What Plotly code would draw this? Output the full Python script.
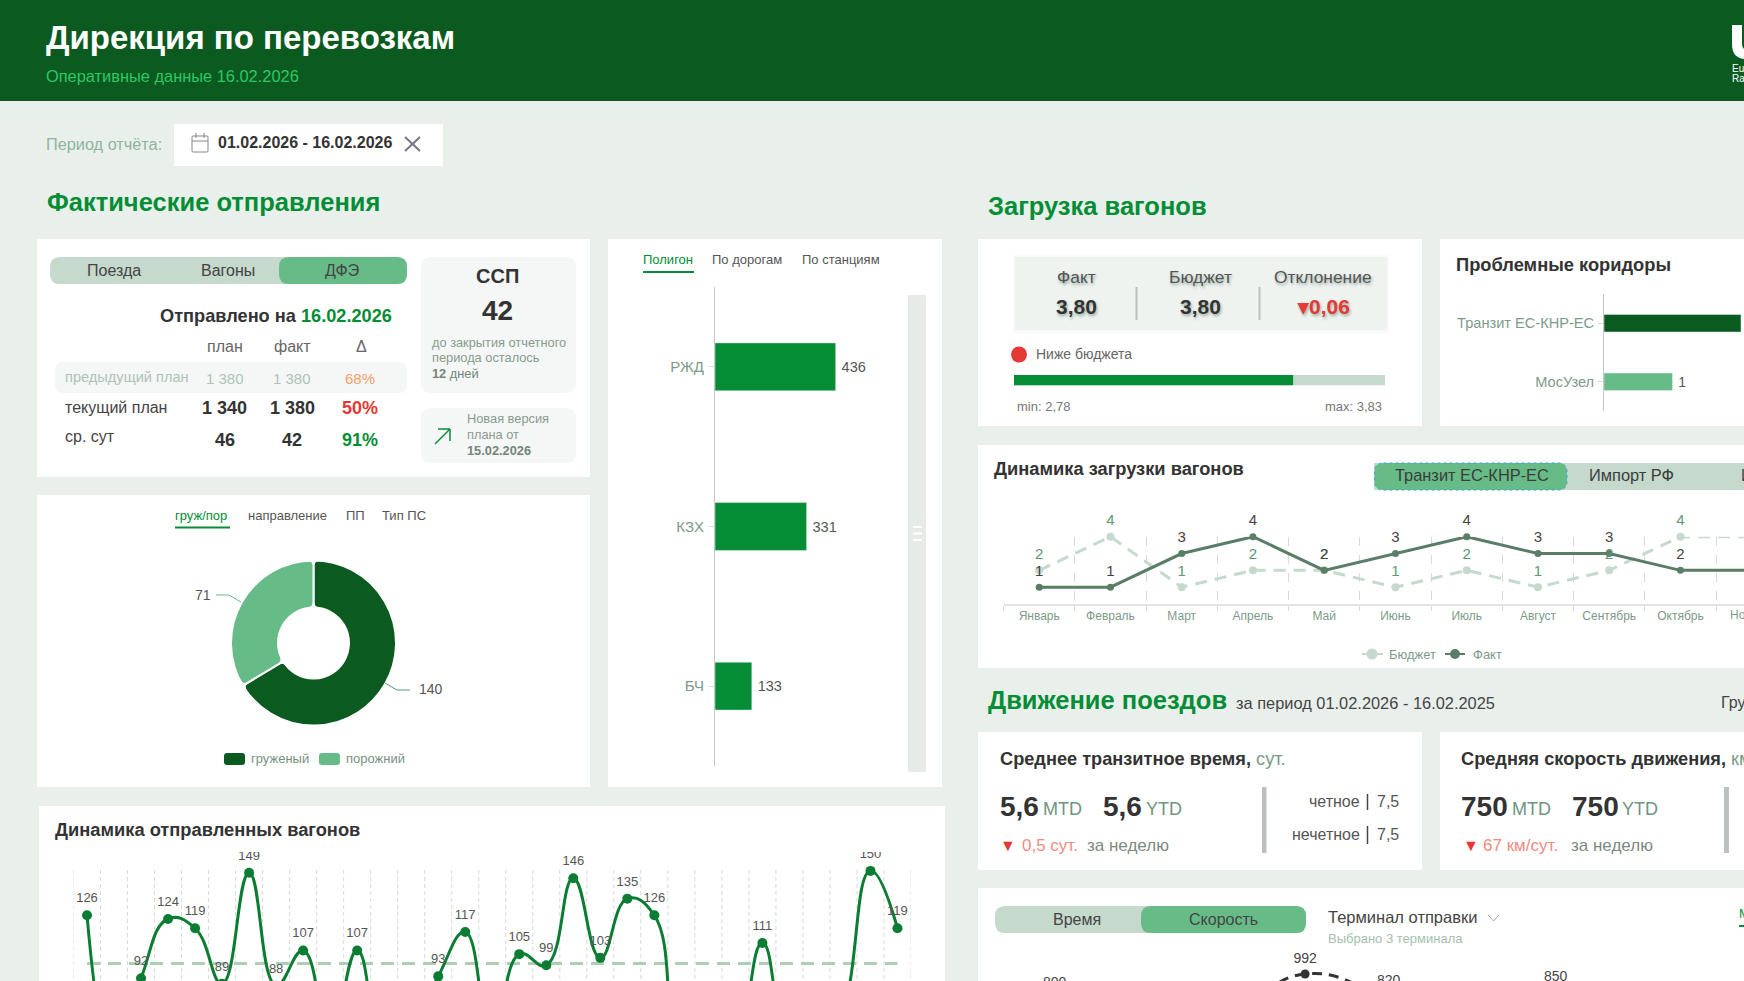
import math
import plotly.graph_objects as go

W, H = 1744, 981
FONT = "'Liberation Sans', Arial, sans-serif"

BG = "#e9f0ec"
HEADER = "#0b5a20"
GREEN = "#058d35"
DARK = "#0b5a20"
MID = "#67bb87"
PALE = "#c5d9cc"
INK = "#333333"
MUTED = "#7d9a8a"
RED = "#e53935"
CLEAR = "rgba(0,0,0,0)"

# Shipped wagons per day of the month
day_index = list(range(31))
day_values = [126, 45, 92, 124, 119, 89, 149, 88, 107, 60, 107, 60, 62, 93, 117, 55,
              105, 99, 146, 103, 135, 126, 50, 40, 55, 111, 55, 45, 75, 150, 119]
day_labels = ["126", "", "92", "124", "119", "89", "149", "88", "107", "", "107", "", "", "93", "117", "",
              "105", "99", "146", "103", "135", "126", "", "", "", "111", "", "", "", "150", "119"]
day_plan = [100] * 31

# Departures by polygon
polygon_names = ["РЖД", "КЗХ", "БЧ"]
polygon_values = [436, 331, 133]

# Loaded / empty split
split_names = ["груженый", "порожний"]
split_values = [140, 71]

# Problem corridors
corridor_names = ["Транзит ЕС-КНР-ЕС", "МосУзел"]
corridor_values = [2, 1]

# Wagon loading by month
months = ["Январь", "Февраль", "Март", "Апрель", "Май", "Июнь", "Июль", "Август",
          "Сентябрь", "Октябрь", "Ноябрь", "Декабрь"]
load_budget = [2, 4, 1, 2, 2, 1, 2, 1, 2, 4, 4, 3]
load_fact = [1, 1, 3, 4, 2, 3, 4, 3, 3, 2, 2, 3]

# Loading gauge
gauge_min, gauge_max, gauge_value = 2.78, 3.83, 3.57

# Speed by terminal
terminal_index = list(range(9))
terminal_speed = [800, 640, 660, 992, 820, 680, 850, 700, 660]
terminal_labels = ["800", "", "", "992", "820", "", "850", "", ""]


def px(x):
    return x / W


def py(y):
    return 1 - y / H


shapes, annotations, traces, axes = [], [], [], {}


def rect(x0, y0, x1, y1, fill, layer="below", r=0, line=None, dash=None):
    """Filled rectangle in page pixels, optionally with rounded corners."""
    style = dict(fillcolor=fill, layer=layer, xref="paper", yref="paper",
                 line=dict(width=0) if line is None else dict(width=1, color=line, dash=dash))
    if r == 0:
        shapes.append(dict(type="rect", x0=px(x0), x1=px(x1), y0=py(y0), y1=py(y1), **style))
        return
    a, b, c, d = px(x0), px(x1), py(y0), py(y1)
    rx, ry = r / W, r / H
    path = (f"M{a + rx},{c} L{b - rx},{c} Q{b},{c} {b},{c - ry} L{b},{d + ry} Q{b},{d} {b - rx},{d} "
            f"L{a + rx},{d} Q{a},{d} {a},{d + ry} L{a},{c - ry} Q{a},{c} {a + rx},{c} Z")
    shapes.append(dict(type="path", path=path, **style))


def seg(x0, y0, x1, y1, color, width=1, dash=None, layer="above"):
    """Straight line in page pixels."""
    shapes.append(dict(type="line", x0=px(x0), x1=px(x1), y0=py(y0), y1=py(y1), xref="paper",
                       yref="paper", layer=layer, line=dict(color=color, width=width, dash=dash)))


def dot(cx, cy, r, color):
    shapes.append(dict(type="circle", x0=px(cx - r), x1=px(cx + r), y0=py(cy + r), y1=py(cy - r),
                       xref="paper", yref="paper", fillcolor=color, line=dict(width=0), layer="above"))


def text(x, y, s, size=14, color=INK, anchor="left", bold=False, shadow=None):
    font = dict(family=FONT, size=size, color=color)
    if shadow:
        font["shadow"] = shadow
    if anchor == "left":
        x -= 1  # annotation boxes keep one pixel of side padding
    annotations.append(dict(x=px(x), y=py(y), xref="paper", yref="paper", showarrow=False,
                            xanchor=anchor, yanchor="middle", text=f"<b>{s}</b>" if bold else s,
                            font=font, borderpad=0))


def add_axes(n, x, y, xopts=None, yopts=None):
    """Register a subplot placed by its page-pixel box."""
    base = dict(visible=False, fixedrange=True, showgrid=False, zeroline=False)
    suffix = "" if n == 1 else str(n)
    axes[f"xaxis{suffix}"] = {**base, "domain": [px(x[0]), px(x[1])], "anchor": f"y{suffix}", **(xopts or {})}
    axes[f"yaxis{suffix}"] = {**base, "domain": [py(y[1]), py(y[0])], "anchor": f"x{suffix}", **(yopts or {})}
    return f"x{suffix}", f"y{suffix}"


def labels_trace(x, y, labels, xa, ya, size, color, spacing, clip=True):
    """Value labels sitting above a series; spacing is the invisible marker that sets their offset."""
    return go.Scatter(x=x, y=y, mode="markers+text", xaxis=xa, yaxis=ya, text=labels, textposition="top center",
                      showlegend=False, hoverinfo="skip", cliponaxis=clip,
                      textfont=dict(family=FONT, size=size, color=color),
                      marker=dict(color=CLEAR, size=spacing))


def round_donut_corners(cx, cy, r_out, r_in, turn, rad=8.0):
    """Soften the slice corners at the given clockwise-from-top angle with small white masks."""
    def point(rr, ang):
        return cx + rr * math.sin(ang), cy - rr * math.cos(ang)

    for side in (-1, 1):
        for radius, inward in ((r_out, -1), (r_in, 1)):
            step = side * rad / radius
            corner = point(radius, turn)
            along = point(radius + inward * rad, turn)
            arc_end = point(radius, turn + step)
            path = (f"M{px(corner[0])},{py(corner[1])} L{px(along[0])},{py(along[1])} "
                    f"Q{px(corner[0])},{py(corner[1])} {px(arc_end[0])},{py(arc_end[1])} Z")
            shapes.append(dict(type="path", path=path, xref="paper", yref="paper", fillcolor="#ffffff",
                               line=dict(width=0), layer="above"))


# ---- header and period picker ----
rect(0, 0, W, 101, HEADER)
text(46, 37, "Дирекция по перевозкам", 33, "#ffffff", bold=True)
text(46, 76, "Оперативные данные 16.02.2026", 16.4, "#2fc765")
shapes.append(dict(type="path", xref="paper", yref="paper", fillcolor="#ffffff", line=dict(width=0),
                   path=(f"M{px(1732)},{py(25)} L{px(1742)},{py(25)} L{px(1742)},{py(44)} "
                         f"Q{px(1742)},{py(49)} {px(1746)},{py(50)} L{px(1746)},{py(59)} "
                         f"Q{px(1732)},{py(59)} {px(1732)},{py(44)} Z")))
text(1732, 69, "Eu", 10, "#ffffff")
text(1732, 79, "Ra", 10, "#ffffff")

text(46, 144, "Период отчёта:", 16.3, "#8db59d")
rect(174, 124, 443, 166, "#ffffff")
rect(192, 136, 208, 152, CLEAR, layer="above", r=1, line="#85858f")
seg(192, 141, 208, 141, "#85858f")
seg(196, 133, 196, 138, "#85858f")
seg(204, 133, 204, 138, "#85858f")
text(218, 142, "01.02.2026 - 16.02.2026", 16, INK, bold=True)
seg(405, 137, 420, 151, "#77778a", 2)
seg(420, 137, 405, 151, "#77778a", 2)

# ---- departures section ----
text(47, 202, "Фактические отправления", 25.5, GREEN, bold=True)

rect(37, 239, 590, 477, "#ffffff")
rect(50, 257, 407, 284, PALE, r=10)
rect(279, 257, 407, 284, MID, r=10)
text(114, 270, "Поезда", 16, "#444444", "center")
text(228, 270, "Вагоны", 16, "#444444", "center")
text(342, 270, "ДФЭ", 16, "#444444", "center")

text(393, 316, f'Отправлено на <span style="color:{GREEN}">16.02.2026</span>', 18.2, INK, "right", bold=True)
for cx, s in zip((225, 292, 361), ("план", "факт", "Δ")):
    text(cx, 346, s, 16, "#666666", "center")
rect(55, 362, 407, 393, "#f4f7f5", r=8)
text(65, 377, "предыдущий план", 14.6, "#afc3b7")
text(225, 378, "1 380", 15, "#afc3b7", "center")
text(292, 378, "1 380", 15, "#afc3b7", "center")
text(360, 378, "68%", 15, "#f4a06a", "center")
text(65, 407, "текущий план", 16, "#444444")
text(225, 408, "1 340", 18, INK, "center", bold=True)
text(292, 408, "1 380", 18, INK, "center", bold=True)
text(360, 408, "50%", 18, RED, "center", bold=True)
text(65, 436, "ср. сут", 16, "#444444")
text(225, 440, "46", 18, INK, "center", bold=True)
text(292, 440, "42", 18, INK, "center", bold=True)
text(360, 440, "91%", 18, GREEN, "center", bold=True)

rect(421, 257, 576, 393, "#f4f7f5", r=10)
text(498, 276, "ССП", 20, INK, "center", bold=True)
text(498, 310, "42", 28, INK, "center", bold=True)
text(432, 342, "до закрытия отчетного", 12.8, "#8a9a90")
text(432, 358, "периода осталось", 12.8, "#8a9a90")
text(432, 374, "<b>12</b> дней", 12.8, "#73857a")
rect(421, 408, 576, 463, "#f4f7f5", r=10)
seg(435, 444, 450, 429, GREEN, 1.5)
seg(438, 429, 450, 429, GREEN, 1.5)
seg(450, 429, 450, 441, GREEN, 1.5)
text(467, 418, "Новая версия", 12.8, "#8a9a90")
text(467, 434, "плана от", 12.8, "#8a9a90")
text(467, 450, "15.02.2026", 12.8, "#73857a", bold=True)

# donut card
rect(37, 495, 590, 787, "#ffffff")
text(175, 515, "груж/пор", 13, GREEN)
seg(175, 527.5, 230, 527.5, GREEN, 2)
text(248, 515, "направление", 13, "#555555")
text(346, 515, "ПП", 13, "#555555")
text(382, 515, "Тип ПС", 13, "#555555")
traces.append(go.Pie(labels=split_names, values=split_values, hole=0.43, sort=False, direction="clockwise",
                     rotation=0, textinfo="none", hoverinfo="label+value", showlegend=False,
                     marker=dict(colors=[DARK, MID], line=dict(color="#ffffff", width=2)),
                     domain=dict(x=[px(231), px(396)], y=[py(725.5), py(560.5)])))
round_donut_corners(313.5, 643, 82.5, 35.5, 0.0)
round_donut_corners(313.5, 643, 82.5, 35.5, 2 * math.pi * split_values[0] / sum(split_values))
text(203, 595, str(split_values[1]), 14, "#555555", "center")
seg(216, 595, 229, 595, MID, 1)
seg(229, 595, 241, 602, MID, 1)
text(431, 689, str(split_values[0]), 14, "#555555", "center")
seg(385, 683, 397, 690, "#5c9a76", 1)
seg(397, 690, 410, 690, "#5c9a76", 1)
rect(224, 753, 245, 765, DARK, r=3)
text(251, 758, split_names[0], 13, "#7a8f82")
rect(319, 753, 340, 765, MID, r=3)
text(346, 758, split_names[1], 13, "#7a8f82")

# polygon bar card
rect(608, 239, 942, 787, "#ffffff")
text(643, 259, "Полигон", 13, GREEN)
seg(643, 272, 694, 272, GREEN, 2)
text(712, 259, "По дорогам", 13, "#555555")
text(802, 259, "По станциям", 13, "#555555")
bx, by = add_axes(
    2, (715, 908), (287, 766),
    dict(range=[0, 193 / 0.2768]),
    dict(visible=True, type="category", categoryorder="array", categoryarray=polygon_names,
         range=[2.5, -0.5], showline=True, linecolor="#c4c8c6", linewidth=1, ticks="outside", ticklen=5,
         ticklabelstandoff=2, tickcolor="#d5dbd7", tickfont=dict(family=FONT, size=15, color=MUTED)))
traces.append(go.Bar(y=polygon_names, x=polygon_values, orientation="h", width=0.3, xaxis=bx, yaxis=by,
                     marker=dict(color=GREEN), text=["\u2009" + str(v) for v in polygon_values],
                     textposition="outside", cliponaxis=False,
                     textfont=dict(family=FONT, size=14.5, color="#555555")))
rect(908, 295, 926, 772, "#e6ebe8")
for yy in (527, 533.5, 540):
    seg(913, yy, 922, yy, "#ffffff", 2)

# daily wagons line chart
rect(39, 806, 945, 981, "#ffffff")
text(55, 829, "Динамика отправленных вагонов", 18.3, INK, bold=True)
v_top, v_bottom = 160.2, 90.5
lx, ly = add_axes(3, (73.5, 911), (852, 981), dict(range=[-0.5, 30.5]), dict(range=[v_bottom, v_top]))
for i in range(32):
    shapes.append(dict(type="line", xref=lx, yref="paper", x0=i - 0.5, x1=i - 0.5, y0=py(870), y1=0,
                       layer="below", line=dict(color="#d9d9d9", width=1, dash="4px,3px")))
traces.append(go.Scatter(x=day_index, y=day_plan, mode="lines", xaxis=lx, yaxis=ly, hoverinfo="skip",
                         line=dict(color="#add0b4", width=3, dash="13px,8px"), showlegend=False))
traces.append(go.Scatter(x=day_index, y=day_values, mode="lines+markers", xaxis=lx, yaxis=ly, showlegend=False,
                         line=dict(color="#0a7d32", width=3, shape="spline", smoothing=1.3),
                         marker=dict(color="#0a7d32", size=10)))
traces.append(labels_trace(day_index, day_values, day_labels, lx, ly, 13, "#555555", 14))

# ---- wagon loading section ----
text(988, 206, "Загрузка вагонов", 25.5, GREEN, bold=True)
rect(978, 239, 1422, 426, "#ffffff")
rect(1013, 255, 1389, 333, "#f8faf9")
rect(1015, 257, 1387, 330, "#eef3f0")
soft = "1px 2px 3px rgba(50,90,70,0.45)"
for cx, s in zip((1076, 1200, 1323), ("Факт", "Бюджет", "Отклонение")):
    text(cx, 277, s, 17.4, "#555555", "center", shadow=soft)
text(1076, 306, "3,80", 21, INK, "center", bold=True, shadow=soft)
text(1200, 306, "3,80", 21, INK, "center", bold=True, shadow=soft)
text(1323, 306, "▾0,06", 21, RED, "center", bold=True, shadow=soft)
seg(1136.5, 287, 1136.5, 320, "#bcc0be", 2)
seg(1259.5, 287, 1259.5, 320, "#bcc0be", 2)
dot(1019, 354.5, 8, RED)
text(1036, 354, "Ниже бюджета", 14, "#666666")
gx, gy = add_axes(4, (1014, 1385), (375, 385.5), dict(range=[gauge_min, gauge_max]), dict(range=[-0.5, 0.5]))
traces.append(go.Bar(y=[0], x=[gauge_max - gauge_min], base=[gauge_min], orientation="h", width=1, xaxis=gx,
                     yaxis=gy, marker=dict(color=PALE, line=dict(width=0)), showlegend=False, hoverinfo="skip"))
traces.append(go.Bar(y=[0], x=[gauge_value - gauge_min], base=[gauge_min], orientation="h", width=1, xaxis=gx,
                     yaxis=gy, marker=dict(color=GREEN, line=dict(width=0)), showlegend=False))
text(1017, 406, f"min: {gauge_min:.2f}".replace(".", ","), 13, "#777777")
text(1383, 406, f"max: {gauge_max:.2f}".replace(".", ","), 13, "#777777", "right")

rect(1440, 239, W, 426, "#ffffff")
text(1456, 264, "Проблемные коридоры", 18.3, INK, bold=True)
cx_, cy_ = add_axes(
    5, (1604, W), (294, 411),
    dict(range=[0, 140 / 68.5]),
    dict(visible=True, type="category", categoryorder="array", categoryarray=corridor_names,
         range=[1.5, -0.5], showline=True, linecolor="#c4c8c6", linewidth=1, ticks="outside", ticklen=5,
         ticklabelstandoff=1, tickcolor="#d5dbd7", tickfont=dict(family=FONT, size=14.6, color=MUTED)))
traces.append(go.Bar(y=corridor_names, x=corridor_values, orientation="h", width=0.3, xaxis=cx_, yaxis=cy_,
                     marker=dict(color=[DARK, MID]), text=["", "\u2009" + str(corridor_values[1])],
                     textposition="outside", cliponaxis=True, showlegend=False,
                     textfont=dict(family=FONT, size=14, color="#555555")))

# monthly loading chart
rect(978, 445, W, 668, "#ffffff")
text(994, 468, "Динамика загрузки вагонов", 18.3, INK, bold=True)
rect(1374, 463, W + 20, 490, PALE)
rect(1374.5, 463, 1567, 490, MID, r=9, line="#39a7e0", dash="dot")
text(1472, 475, "Транзит ЕС-КНР-ЕС", 16.4, "#3c3c3c", "center")
text(1631, 475, "Импорт РФ", 16.4, "#3c3c3c", "center")
text(1741, 475, "Импорт", 16.4, "#3c3c3c")
mx, my = add_axes(
    6, (1003.6, W), (536.7, 604),
    dict(visible=True, type="category", categoryorder="array", categoryarray=months,
         range=[-0.5, (W - 1003.6) / 71.25 - 0.5], tickson="boundaries", showgrid=True, gridcolor="#d9d9d9",
         griddash="dash", gridwidth=1, showline=True, linecolor="#e3e3e3", linewidth=2, ticks="outside",
         ticklen=5, tickcolor="#d9d9d9", tickangle=0, tickfont=dict(family=FONT, size=12, color=MUTED)),
    dict(range=[0, 4]))
traces.append(go.Scatter(x=months, y=load_budget, mode="lines+markers", xaxis=mx, yaxis=my, cliponaxis=False,
                         showlegend=False, line=dict(color=PALE, width=3, dash="12px,8px"),
                         marker=dict(color=PALE, size=8)))
traces.append(go.Scatter(x=months, y=load_fact, mode="lines+markers", xaxis=mx, yaxis=my, cliponaxis=False,
                         showlegend=False, line=dict(color="#5a7d68", width=3), marker=dict(color="#5a7d68", size=7)))
traces.append(labels_trace(months, load_budget, [str(v) for v in load_budget], mx, my, 15, "#5a9a70", 11, clip=False))
traces.append(labels_trace(months, load_fact, [str(v) for v in load_fact], mx, my, 15, "#444444", 11, clip=False))
text(1751, 615, months[10], 12, MUTED, "center")
seg(1362, 654, 1383, 654, PALE, 2)
dot(1372, 654, 5.5, PALE)
text(1389, 654, "Бюджет", 13, MUTED)
seg(1445, 654, 1465, 654, "#5a7d68", 2)
dot(1455, 654, 5, "#5a7d68")
text(1473, 654, "Факт", 13, MUTED)

# ---- train movement section ----
text(988, 700, "Движение поездов", 25.5, GREEN, bold=True)
text(1236, 703, "за период 01.02.2026 - 16.02.2025", 16.4, "#444444")
text(1721, 702, "Группа", 16, "#444444")

rect(978, 732, 1422, 870, "#ffffff")
unit = '<span style="color:#7a9a88;font-weight:normal">сут.</span>'
text(1000, 759, f"<b>Среднее транзитное время,</b> {unit}", 18.2, INK)
text(1000, 806, "5,6", 28, INK, bold=True)
text(1043, 809, "MTD", 18, "#6f9480")
text(1103, 806, "5,6", 28, INK, bold=True)
text(1146, 809, "YTD", 18, "#6f9480")
text(1000, 845, "▼", 16, RED)
text(1022, 845, "0,5 сут.", 17, "#f28b82")
text(1087, 845, "за неделю", 17, "#7d8a82")
rect(1262, 787, 1266.5, 853, "#bcc0be")
text(1361, 801, "четное", 16, "#555555", "right")
text(1361, 834, "нечетное", 16, "#555555", "right")
seg(1367.5, 794, 1367.5, 810, "#444444", 1.5)
seg(1367.5, 826, 1367.5, 844, "#444444", 1.5)
text(1377, 801, "7,5", 16, "#555555")
text(1377, 834, "7,5", 16, "#555555")

rect(1440, 732, W, 870, "#ffffff")
unit = '<span style="color:#7a9a88;font-weight:normal">км/сут.</span>'
text(1461, 759, f"<b>Средняя скорость движения,</b> {unit}", 18.2, INK)
text(1461, 806, "750", 28, INK, bold=True)
text(1512, 809, "MTD", 18, "#6f9480")
text(1572, 806, "750", 28, INK, bold=True)
text(1622, 809, "YTD", 18, "#6f9480")
text(1463, 845, "▼", 16, RED)
text(1483, 845, "67 км/сут.", 17, "#f28b82")
text(1571, 845, "за неделю", 17, "#7d8a82")
rect(1724, 787, 1729, 853, "#bcc0be")

rect(978, 888, W, 981, "#ffffff")
rect(995, 906, 1306, 933, PALE, r=10)
rect(1141, 906, 1306, 933, MID, r=10)
text(1077, 919, "Время", 16, "#444444", "center")
text(1223, 919, "Скорость", 16, "#444444", "center")
text(1328, 917, "Терминал отправки", 16.5, "#444444")
seg(1488, 915, 1493.5, 921, "#9aa8a0", 1)
seg(1493.5, 921, 1499, 915, "#9aa8a0", 1)
text(1328, 938, "Выбрано 3 терминала", 13, "#a3c0ae")
text(1739, 913, "Месяц", 13, GREEN)
seg(1739, 926, W, 926, GREEN, 2)
tx, ty = add_axes(7, (978, W), (945, 981),
                  dict(range=[(978 - 1054.6) / 83.5, (W - 1054.6) / 83.5]), dict(range=[937, 1218]))
traces.append(go.Scatter(x=terminal_index, y=terminal_speed, mode="lines+markers", xaxis=tx, yaxis=ty,
                         showlegend=False, line=dict(color="#333333", width=3, dash="10px,7px", shape="spline",
                                                     smoothing=1.3),
                         marker=dict(color="#333333", size=9)))
traces.append(labels_trace(terminal_index, terminal_speed, terminal_labels, tx, ty, 14, "#444444", 11))

fig = go.Figure(traces)
fig.update_layout(width=W, height=H, margin=dict(l=0, r=0, t=0, b=0), paper_bgcolor=BG, plot_bgcolor=CLEAR,
                  barmode="overlay", showlegend=False, font=dict(family=FONT), shapes=shapes,
                  annotations=annotations, **axes)
fig.write_html("out.html", config=dict(displayModeBar=False))
